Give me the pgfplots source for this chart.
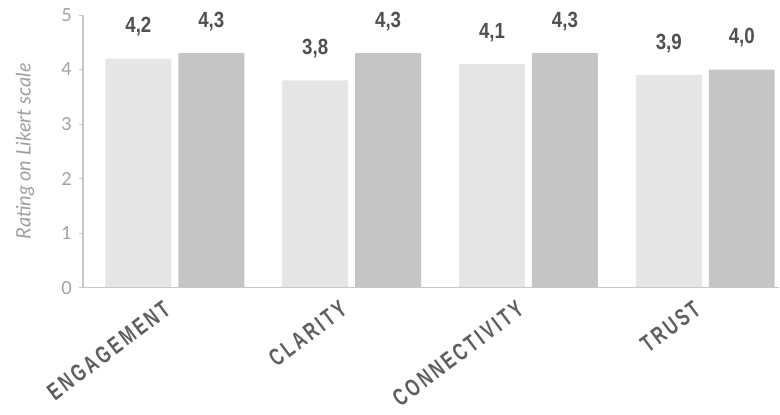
\documentclass[border=0pt]{standalone}
\usepackage{fontspec}
\setmainfont{Lato}
\newfontfamily\valfont[FakeStretch=0.85]{Liberation Sans}
\newfontfamily\catfont[FakeStretch=0.7, LetterSpace=12]{Liberation Sans}
\usepackage{pgfplots}
\pgfplotsset{compat=1.18}
\definecolor{lightbar}{HTML}{E6E6E6}
\definecolor{darkbar}{HTML}{C5C5C5}
\definecolor{axisgray}{HTML}{C8C8C8}
\definecolor{tickgray}{HTML}{A0A0A0}
\definecolor{valgray}{HTML}{505050}
\definecolor{catgray}{HTML}{5E5E5E}
\begin{document}
\begin{tikzpicture}
\begin{axis}[
  name=ax, at={(0,0)}, anchor=south west,
  scale only axis, width=348.5pt, height=136.5pt,
  ybar=3.5pt, bar width=33pt,
  xmin=-0.52, xmax=3.418, ymin=0, ymax=5,
  xtick={0,1,2,3},
  xticklabels={ENGAGEMENT,CLARITY,CONNECTIVITY,TRUST},
  ytick={0,1,2,3,4,5},
  axis lines=left,
  axis line style={-, draw=axisgray, line width=0.8pt},
  axis on top,
  x tick style={draw=none},
  y tick style={draw=axisgray},
  tick align=outside, major tick length=2pt,
  /pgf/number format/assume math mode=true,
  yticklabel style={font=\fontsize{9}{9}\selectfont, text=tickgray},
  xticklabel style={font=\catfont\bfseries\fontsize{12}{12}\selectfont, text=catgray, rotate=37, anchor=east, inner sep=0pt, yshift=-3.5pt, xshift=-7.5pt},
  ylabel={Rating on Likert scale},
  ylabel style={font=\itshape\fontsize{10}{10}\selectfont, text=tickgray, at={(axis description cs:-0.083,0.5)}, anchor=center},
  nodes near coords={\pgfmathprintnumber[use comma,fixed,fixed zerofill,precision=1]{\pgfplotspointmeta}},
  nodes near coords style={font=\valfont\bfseries\fontsize{11}{11}\selectfont, text=valgray, anchor=south, inner sep=0pt, yshift=11pt},
]
\addplot[fill=lightbar, draw=none] coordinates {(0,4.2) (1,3.8) (2,4.1) (3,3.9)};
\addplot[fill=darkbar, draw=none] coordinates {(0,4.3) (1,4.3) (2,4.3) (3,4.0)};
\end{axis}
\path[use as bounding box] ([xshift=-41.5pt,yshift=-63.5pt]ax.south west) rectangle ([yshift=7.5pt]ax.north east);
\end{tikzpicture}
\end{document}
